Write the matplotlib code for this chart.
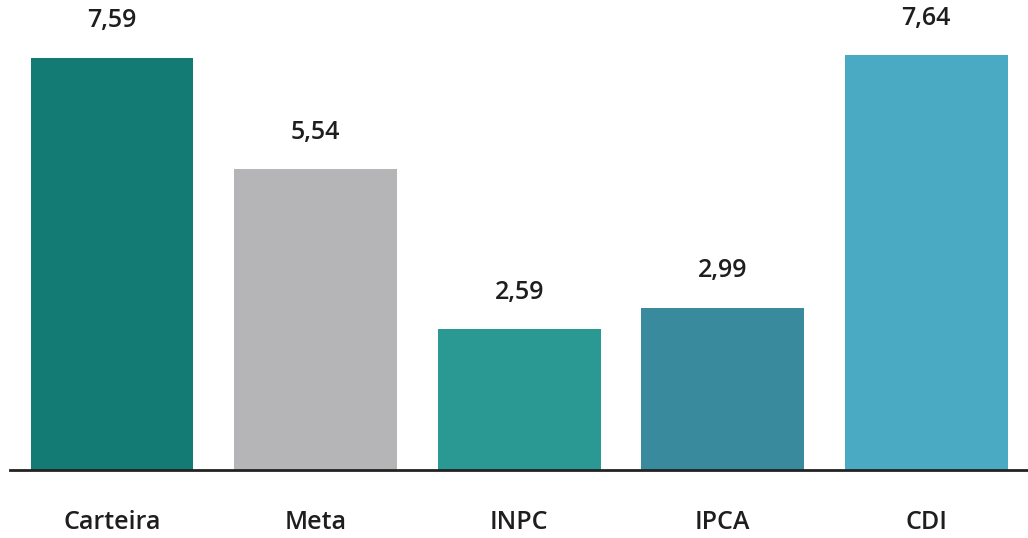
import matplotlib.pyplot as plt

categories = ['Carteira', 'Meta', 'INPC', 'IPCA', 'CDI']
values = [7.59, 5.54, 2.59, 2.99, 7.64]
colors = ['#137a74', '#b5b5b7', '#2a9994', '#3a8a9d', '#4aa9c3']

plt.rcParams['font.family'] = ['Open Sans', 'DejaVu Sans']

fig = plt.figure(figsize=(10.28, 5.38), dpi=100)
ax = fig.add_axes([0.01, 0.126, 0.99, 0.874])

x = range(len(categories))
bars = ax.bar(x, values, width=0.8, color=colors)

for xi, v in zip(x, values):
    ax.annotate(f'{v:.2f}'.replace('.', ','), (xi, v), xytext=(0, 26.5),
                textcoords='offset points', ha='center', va='center',
                fontsize=18, fontweight='semibold', color='#1e1e1e')

ax.set_xlim(-0.5, 4.5)
ax.set_ylim(0, 8.65)
ax.set_xticks(list(x))
ax.set_xticklabels(categories, fontsize=18, fontweight='semibold', color='#1e1e1e')
ax.tick_params(axis='x', length=0, pad=29)
ax.set_yticks([])
for s in ['top', 'right', 'left']:
    ax.spines[s].set_visible(False)
ax.spines['bottom'].set_linewidth(2)
ax.spines['bottom'].set_color('#222222')

fig.savefig('out.png', dpi=100)
